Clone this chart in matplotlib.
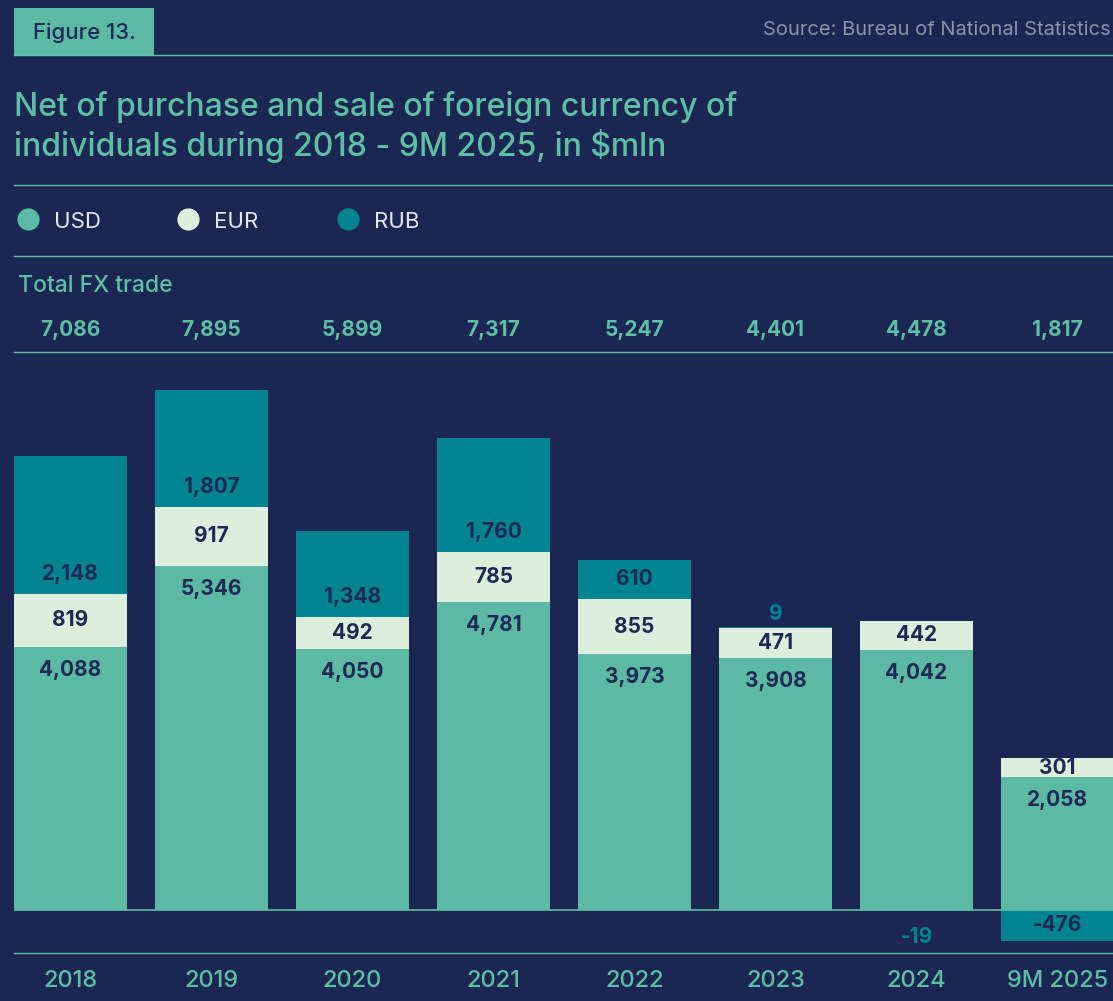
"""Net FX purchase/sale by individuals, 2018 - 9M 2025 (stacked bars)"""

import matplotlib
matplotlib.use("Agg")
import matplotlib.pyplot as plt
import matplotlib.transforms as mtransforms
from matplotlib.patches import Rectangle
from matplotlib.lines import Line2D

# ── data ──
years = ["2018", "2019", "2020", "2021", "2022", "2023", "2024", "9M 2025"]
totals = [7086, 7895, 5899, 7317, 5247, 4401, 4478, 1817]
usd = [4088, 5346, 4050, 4781, 3973, 3908, 4042, 2058]
eur = [819, 917, 492, 785, 855, 471, 442, 301]
rub = [2148, 1807, 1348, 1760, 610, 9, -19, -476]

# ── style ──
BG = "#1b2652"
C_USD = "#5cb9a3"
C_EUR = "#dcefdc"
C_RUB = "#008490"
TEAL = "#5dbfa4"
NAVY = "#1e2a55"
GREY = "#8b93aa"
plt.rcParams["font.family"] = ["Inter", "DejaVu Sans"]

W, H = 1113, 1001
fig = plt.figure(figsize=(W / 100, H / 100), dpi=100, facecolor=BG)
fx = lambda px: px / W
fy = lambda py: 1 - py / H

# header
fig.add_artist(Rectangle((fx(14), fy(55)), fx(140), 47 / H, transform=fig.transFigure,
                         facecolor=C_USD, edgecolor="none"))
fig.text(fx(33), fy(33), "Figure 13.", color=NAVY, fontsize=16, fontweight="medium", va="center")
fig.text(fx(1111), fy(30), "Source: Bureau of National Statistics", color=GREY, fontsize=14.5,
         ha="right", va="center")
for yy in (55, 185, 256):
    fig.add_artist(Line2D([fx(14), 1], [fy(yy), fy(yy)], color=TEAL, lw=1, transform=fig.transFigure))

fig.text(fx(14), fy(127), "Net of purchase and sale of foreign currency of\n"
         "individuals during 2018 - 9M 2025, in $mln",
         color=TEAL, fontsize=23, fontweight="medium", va="center", linespacing=1.25)

# legend
for x0, lab, c in [(28, "USD", C_USD), (188, "EUR", C_EUR), (348, "RUB", C_RUB)]:
    fig.add_artist(Line2D([fx(x0)], [fy(219)], marker="o", markersize=15, color=c,
                          transform=fig.transFigure))
    fig.text(fx(x0 + 26), fy(222), lab, color="#e6e8f0", fontsize=16, va="center")

fig.text(fx(18), fy(286), "Total FX trade", color=TEAL, fontsize=16.5, fontweight="medium", va="center")

# ── chart ──
ax = fig.add_axes([fx(14), (H - 953) / H, fx(1113 - 14), 601 / H])
ax.set_facecolor(BG)
px_u = 1 / 0.0644  # data units per pixel
x = list(range(len(years)))
ax.set_xlim(-0.4, -0.4 + 1099 / 141)
ax.set_ylim(-43 * px_u, 558 * px_u)

base2 = [u + e for u, e in zip(usd, eur)]
rub_bottom = [b if r > 0 else 0 for b, r in zip(base2, rub)]
ax.bar(x, usd, width=0.8, color=C_USD)
ax.bar(x, eur, width=0.8, bottom=usd, color=C_EUR)
ax.bar(x, rub, width=0.8, bottom=rub_bottom, color=C_RUB)
ax.axhline(0, color=TEAL, lw=1.2)

lab_kw = dict(ha="center", va="center", fontsize=15, fontweight="bold")
for i in x:
    ax.text(i, usd[i] - 23 * px_u, f"{usd[i]:,}", color=NAVY, **lab_kw)
    ax.text(i, usd[i] + eur[i] / 2, f"{eur[i]:,}", color=NAVY, **lab_kw)
    r = rub[i]
    if abs(r) < 50:
        y = base2[i] + 14 * px_u if r > 0 else -27 * px_u
        ax.text(i, y, f"{r:,}", color=C_RUB, **lab_kw)
    elif r > 0:
        ax.text(i, rub_bottom[i] + min(20 * px_u, r / 2), f"{r:,}", color=NAVY, **lab_kw)
    else:
        ax.text(i, r / 2, f"{r:,}", color=NAVY, **lab_kw)

# totals row above the chart
trans = mtransforms.blended_transform_factory(ax.transData, fig.transFigure)
for i in x:
    ax.text(i, fy(330), f"{totals[i]:,}", transform=trans, color=TEAL, fontsize=15,
            fontweight="bold", ha="center", va="center", clip_on=False)

for s in ("left", "right"):
    ax.spines[s].set_visible(False)
for s in ("top", "bottom"):
    ax.spines[s].set_color(TEAL)
    ax.spines[s].set_linewidth(1)
ax.set_yticks([])
ax.set_xticks(x)
ax.set_xticklabels(years, color=TEAL, fontsize=17, fontweight="medium")
ax.tick_params(axis="x", length=0, pad=12)

plt.savefig("out.png", dpi=100, facecolor=BG)
